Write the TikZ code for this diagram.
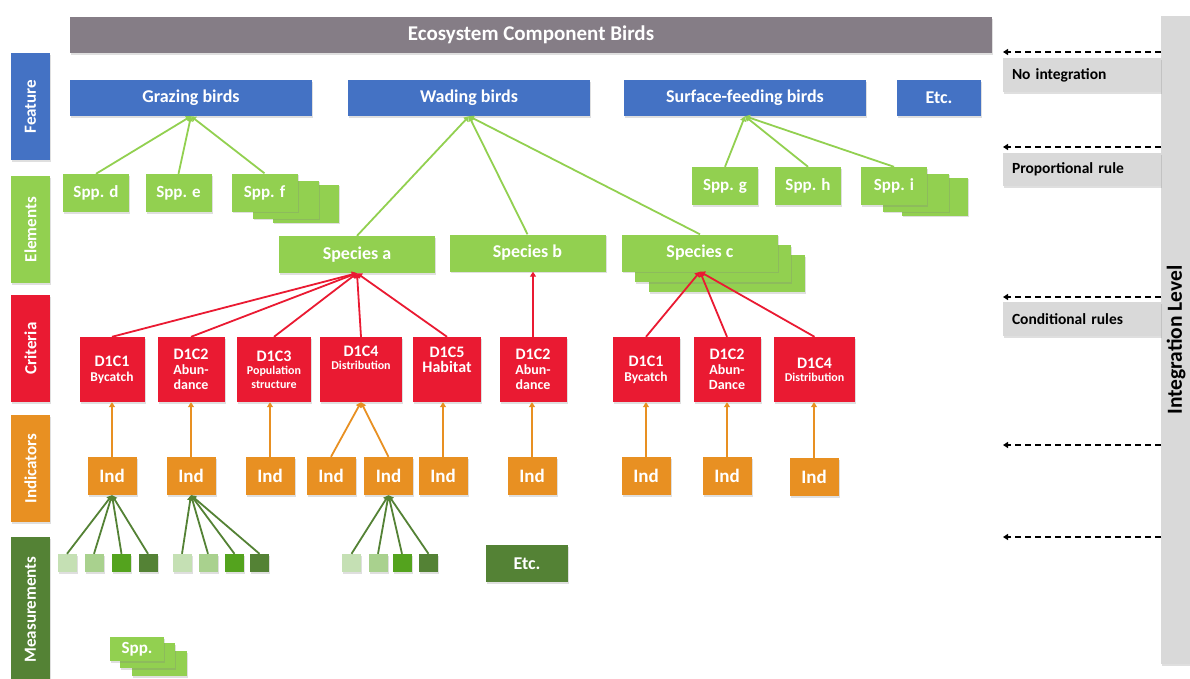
\documentclass[tikz,border=0pt]{standalone}
\usepackage{fontspec}
\setmainfont{Carlito}
\usetikzlibrary{arrows.meta,shadows}
\definecolor{ttl}{RGB}{133,125,134}
\definecolor{feat}{RGB}{68,114,196}
\definecolor{elem}{RGB}{146,208,80}
\definecolor{crit}{RGB}{234,26,50}
\definecolor{indc}{RGB}{232,144,34}
\definecolor{meas}{RGB}{84,130,53}
\definecolor{lgray}{RGB}{217,217,217}
\definecolor{mA}{RGB}{197,224,180}
\definecolor{mB}{RGB}{169,209,142}
\definecolor{mC}{RGB}{84,163,30}
\definecolor{mD}{RGB}{84,130,53}
\newcommand\fsz[1]{\fontsize{#1}{#1}\selectfont}
\begin{document}
\begin{tikzpicture}[x=1pt,y=-1pt,
  box/.style={inner sep=0pt, text=white, font=\bfseries, align=center,
    drop shadow={opacity=0.25, shadow xshift=1pt, shadow yshift=-1.5pt}},
  side/.style={box, rotate=90, minimum height=39pt, font=\bfseries\fsz{17}},
  featbox/.style={box, fill=feat, minimum width=242pt, minimum height=36pt, font=\bfseries\fsz{18}},
  sppbox/.style={box, fill=elem, minimum width=66pt, minimum height=38pt, font=\bfseries\fsz{17}},
  specbox/.style={box, fill=elem, minimum width=156pt, minimum height=37pt, font=\bfseries\fsz{18}},
  critbox/.style={box, fill=crit, minimum height=65pt, font=\bfseries\fsz{16}},
  indbox/.style={box, fill=indc, minimum width=49pt, minimum height=38pt, font=\bfseries\fsz{19}},
  msq/.style={box, minimum width=19pt, minimum height=18pt},
  rlab/.style={box, fill=lgray, text=black, minimum width=158pt, minimum height=34pt,
    text width=140pt, align=left, font=\bfseries\fsz{15.5}},
  garr/.style={draw=elem, line width=1.8pt, -{Triangle[width=6pt,length=5pt]}},
  rarr/.style={draw=crit, line width=1.8pt, -{Triangle[width=6pt,length=5pt]}},
  oarr/.style={draw=indc, line width=1.8pt, -{Triangle[width=6pt,length=5pt]}},
  marr/.style={draw=meas, line width=1.8pt, -{Triangle[width=6pt,length=5pt]}},
  dsh/.style={draw=black, dash pattern=on 6pt off 4pt, line width=1.4pt, -{Triangle[width=6pt,length=5pt]}}
]
\useasboundingbox[fill=white] (0,0) rectangle (1190,678);

% title
\node[box, fill=ttl, minimum width=922pt, minimum height=36pt, font=\bfseries\fsz{21}] (title) at (531,35) {Ecosystem Component Birds};

% left side labels
\node[side, fill=feat, minimum width=107pt] (lfeat) at (30.5,106.5) {Feature};
\node[side, fill=elem, minimum width=107pt] (lelem) at (30.5,229.5) {Elements};
\node[side, fill=crit, minimum width=107pt] (lcrit) at (30.5,348.5) {Criteria};
\node[side, fill=indc, minimum width=107pt] (lind) at (30.5,468.5) {Indicators};
\node[side, fill=meas, minimum width=145pt] (lmeas) at (30.5,609.5) {Measurements};

% right side
\node[box, fill=lgray, text=black, rotate=90, minimum width=648pt, minimum height=30pt, font=\bfseries\fsz{21.5}] (ibar) at (1176,340) {Integration Level};
\node[rlab] (lno) at (1082,75) {No integration};
\node[rlab, minimum height=33pt] (lprop) at (1082,169.5) {Proportional rule};
\node[rlab] (lcond) at (1082,319) {Conditional rules};
\foreach \i/\yy in {1/52,2/147,3/297,4/445,5/537}{
  \coordinate (ds\i) at (1161,\yy);
  \coordinate (de\i) at (1003,\yy);
  \draw[dsh] (ds\i) -- (de\i);
}

% feature row
\node[featbox] (graz) at (191,98) {Grazing birds};
\node[featbox] (wad) at (469,98) {Wading birds};
\node[featbox] (surf) at (745,98) {Surface-feeding birds};
\node[featbox, minimum width=84pt] (fetc) at (939,98) {Etc.};

% elements (spp)
\node[sppbox] (sppd) at (96,193) {Spp. d};
\node[sppbox] (sppe) at (178.5,193) {Spp. e};
\node[sppbox] (sppf3) at (306,203.5) {};
\node[sppbox] (sppf2) at (286,199.5) {};
\node[sppbox] (sppf) at (264.5,192.5) {Spp. f};
\node[sppbox] (sppg) at (725,186) {Spp. g};
\node[sppbox] (spph) at (808,186) {Spp. h};
\node[sppbox] (sppi3) at (935,196.5) {};
\node[sppbox] (sppi2) at (915.5,192.5) {};
\node[sppbox] (sppi) at (894,186) {Spp. i};

% species row
\node[specbox] (spa) at (357,254.5) {Species a};
\node[specbox] (spb) at (527.5,253) {Species b};
\node[specbox] (spc3) at (727,273.5) {};
\node[specbox] (spc2) at (713,263.5) {};
\node[specbox] (spc) at (700,253) {Species c};

% criteria
\node[critbox, minimum width=65pt] (c1) at (112,369.5) {D1C1\\[-1pt]{\fsz{13.5}Bycatch}};
\node[critbox, minimum width=67pt] (c2) at (191,369.5) {D1C2\\[-1pt]{\fsz{14}Abun-}\\[-1pt]{\fsz{14}dance}};
\node[critbox, minimum width=74pt] (c3) at (274,369.5) {D1C3\\[-3pt]{\fsz{12}Population}\\[-2pt]{\fsz{12}structure}};
\node[critbox, minimum width=82pt] (c4) at (361,369.5) {D1C4\\[-3pt]{\fsz{12}Distribution}\\[8pt]};
\node[critbox, minimum width=68pt] (c5) at (447,369.5) {D1C5\\[-1pt]Habitat\\[4pt]};
\node[critbox, minimum width=67pt] (c6) at (533,369.5) {D1C2\\[-1pt]{\fsz{14}Abun-}\\[-1pt]{\fsz{14}dance}};
\node[critbox, minimum width=67pt] (c7) at (646,369.5) {D1C1\\[-1pt]{\fsz{13.5}Bycatch}};
\node[critbox, minimum width=67pt] (c8) at (727,369.5) {D1C2\\[-1pt]{\fsz{14}Abun-}\\[-1pt]{\fsz{14}Dance}};
\node[critbox, minimum width=81pt] (c9) at (814.5,369.5) {D1C4\\[-3pt]{\fsz{12}Distribution}};

% indicators
\node[indbox] (i1) at (112,476) {Ind};
\node[indbox] (i2) at (191,476) {Ind};
\node[indbox] (i3) at (270,476) {Ind};
\node[indbox] (i4) at (331,476) {Ind};
\node[indbox] (i5) at (388.5,476) {Ind};
\node[indbox] (i6) at (443,476) {Ind};
\node[indbox] (i7) at (532,476) {Ind};
\node[indbox] (i8) at (646,476) {Ind};
\node[indbox] (i9) at (727,476) {Ind};
\node[indbox] (i10) at (814,477) {Ind};

% measurements
\node[msq, fill=mA] (m11) at (67,563) {};
\node[msq, fill=mB] (m12) at (94,563) {};
\node[msq, fill=mC] (m13) at (121.5,563) {};
\node[msq, fill=mD] (m14) at (148,563) {};
\node[msq, fill=mA] (m21) at (182,563) {};
\node[msq, fill=mB] (m22) at (208,563) {};
\node[msq, fill=mC] (m23) at (234.5,563) {};
\node[msq, fill=mD] (m24) at (259.5,563) {};
\node[msq, fill=mA] (m31) at (351.5,563) {};
\node[msq, fill=mB] (m32) at (378,563) {};
\node[msq, fill=mC] (m33) at (402,563) {};
\node[msq, fill=mD] (m34) at (428.5,563) {};
\node[box, fill=meas, minimum width=82pt, minimum height=37pt, font=\bfseries\fsz{18}] (metc) at (527,563.5) {Etc.};

% bottom spp stack
\node[box, fill=elem, minimum width=55pt, minimum height=25pt] (bs3) at (159.5,663.5) {};
\node[box, fill=elem, minimum width=55pt, minimum height=25pt] (bs2) at (147.5,655.5) {};
\node[box, fill=elem, minimum width=54pt, minimum height=24pt, font=\bfseries\fsz{17}] (bs1) at (137,649) {Spp.};

% connectors: elements -> features
\draw[garr] (sppd.north) -- (graz.south);
\draw[garr] (sppe.north) -- (graz.south);
\draw[garr] (sppf.north) -- (graz.south);
\draw[garr] (spa.north) -- (wad.south);
\draw[garr] (spb.north) -- (wad.south);
\draw[garr] (spc.north) -- (wad.south);
\draw[garr] (sppg.north) -- (surf.south);
\draw[garr] (spph.north) -- (surf.south);
\draw[garr] (sppi.north) -- (surf.south);

% criteria -> species
\foreach \c in {c1,c2,c3,c4,c5} \draw[rarr] (\c.north) -- (spa.south);
\draw[rarr] (c6.north) -- (c6.north |- spb.south);
\foreach \c in {c7,c8,c9} \draw[rarr] (\c.north) -- (spc.south);

% indicators -> criteria
\draw[oarr] (i1.north) -- (i1.north |- c1.south);
\draw[oarr] (i2.north) -- (i2.north |- c2.south);
\draw[oarr] (i3.north) -- (i3.north |- c3.south);
\draw[oarr] (i4.north) -- (c4.south);
\draw[oarr] (i5.north) -- (c4.south);
\draw[oarr] (i6.north) -- (i6.north |- c5.south);
\draw[oarr] (i7.north) -- (i7.north |- c6.south);
\draw[oarr] (i8.north) -- (i8.north |- c7.south);
\draw[oarr] (i9.north) -- (i9.north |- c8.south);
\draw[oarr] (i10.north) -- (i10.north |- c9.south);

% measurements -> indicators
\foreach \m in {m11,m12,m13,m14} \draw[marr] (\m.north) -- (i1.south);
\foreach \m in {m21,m22,m23,m24} \draw[marr] (\m.north) -- (i2.south);
\foreach \m in {m31,m32,m33,m34} \draw[marr] (\m.north) -- (i5.south);
\end{tikzpicture}
\end{document}
